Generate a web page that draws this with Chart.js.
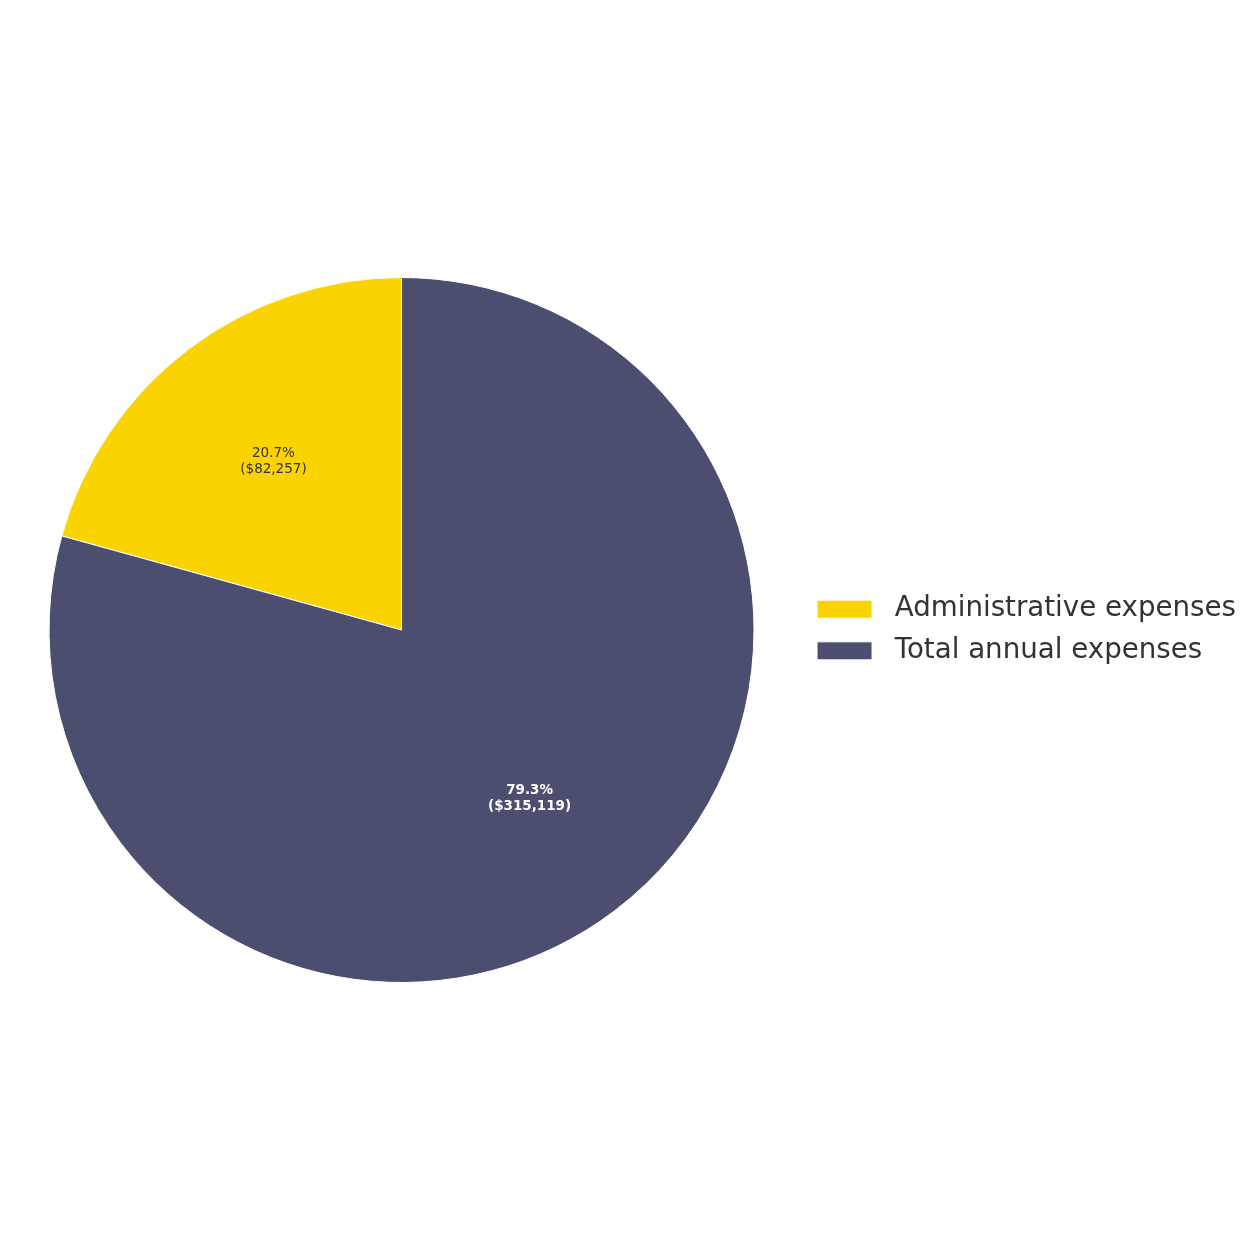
<!DOCTYPE html>
<html>
<head>
<meta charset="utf-8">
<script src="https://cdn.jsdelivr.net/npm/chart.js@4"></script>
<style>
html,body{margin:0;padding:0;background:#fff;}
#wrap{width:1260px;height:1260px;}
</style>
</head>
<body>
<div id="wrap"><canvas id="c" width="1260" height="1260"></canvas></div>
<script>
const categories = ["Administrative expenses", "Total annual expenses"];
const values = [82257, 315119];
const colors = ["#FBD300", "#4B4E6F"];
const labelColors = ["#333333", "#FFFFFF"];
const labelWeights = ["normal", "bold"];

const total = values.reduce((a, b) => a + b, 0);
const firstFrac = values[0] / total;

const sliceLabels = {
  id: 'sliceLabels',
  afterDatasetsDraw(chart) {
    const ctx = chart.ctx;
    const meta = chart.getDatasetMeta(0);
    meta.data.forEach((arc, i) => {
      const p = arc.getProps(['x', 'y', 'startAngle', 'endAngle', 'outerRadius']);
      const mid = (p.startAngle + p.endAngle) / 2;
      const r = p.outerRadius * 0.6;
      const cx = p.x + Math.cos(mid) * r;
      const cy = p.y + Math.sin(mid) * r;
      const pct = (values[i] / total * 100).toFixed(1) + '%';
      const amt = '($' + values[i].toLocaleString('en-US') + ')';
      ctx.save();
      ctx.fillStyle = labelColors[i];
      ctx.font = labelWeights[i] + ' 13.5px "DejaVu Sans"';
      ctx.textAlign = 'center';
      ctx.textBaseline = 'middle';
      ctx.fillText(pct, cx, cy - 8);
      ctx.fillText(amt, cx, cy + 8);
      ctx.restore();
    });
  }
};

new Chart(document.getElementById('c'), {
  type: 'pie',
  data: {
    labels: categories,
    datasets: [{
      data: values,
      backgroundColor: colors,
      borderColor: '#FFFFFF',
      borderWidth: 1
    }]
  },
  options: {
    responsive: false,
    animation: false,
    rotation: -firstFrac * 360,
    layout: { padding: { left: 0, right: 14, top: 277, bottom: 277 } },
    plugins: {
      tooltip: { enabled: false },
      legend: {
        position: 'right',
        labels: {
          boxWidth: 55,
          boxHeight: 18,
          padding: 14,
          color: '#333333',
          font: { family: 'DejaVu Sans', size: 27.7 },
          generateLabels(chart) {
            const base = Chart.overrides.pie.plugins.legend.labels.generateLabels(chart);
            return base.map(l => Object.assign({}, l, { text: ' ' + l.text }));
          }
        }
      }
    }
  },
  plugins: [sliceLabels]
});
</script>
</body>
</html>
